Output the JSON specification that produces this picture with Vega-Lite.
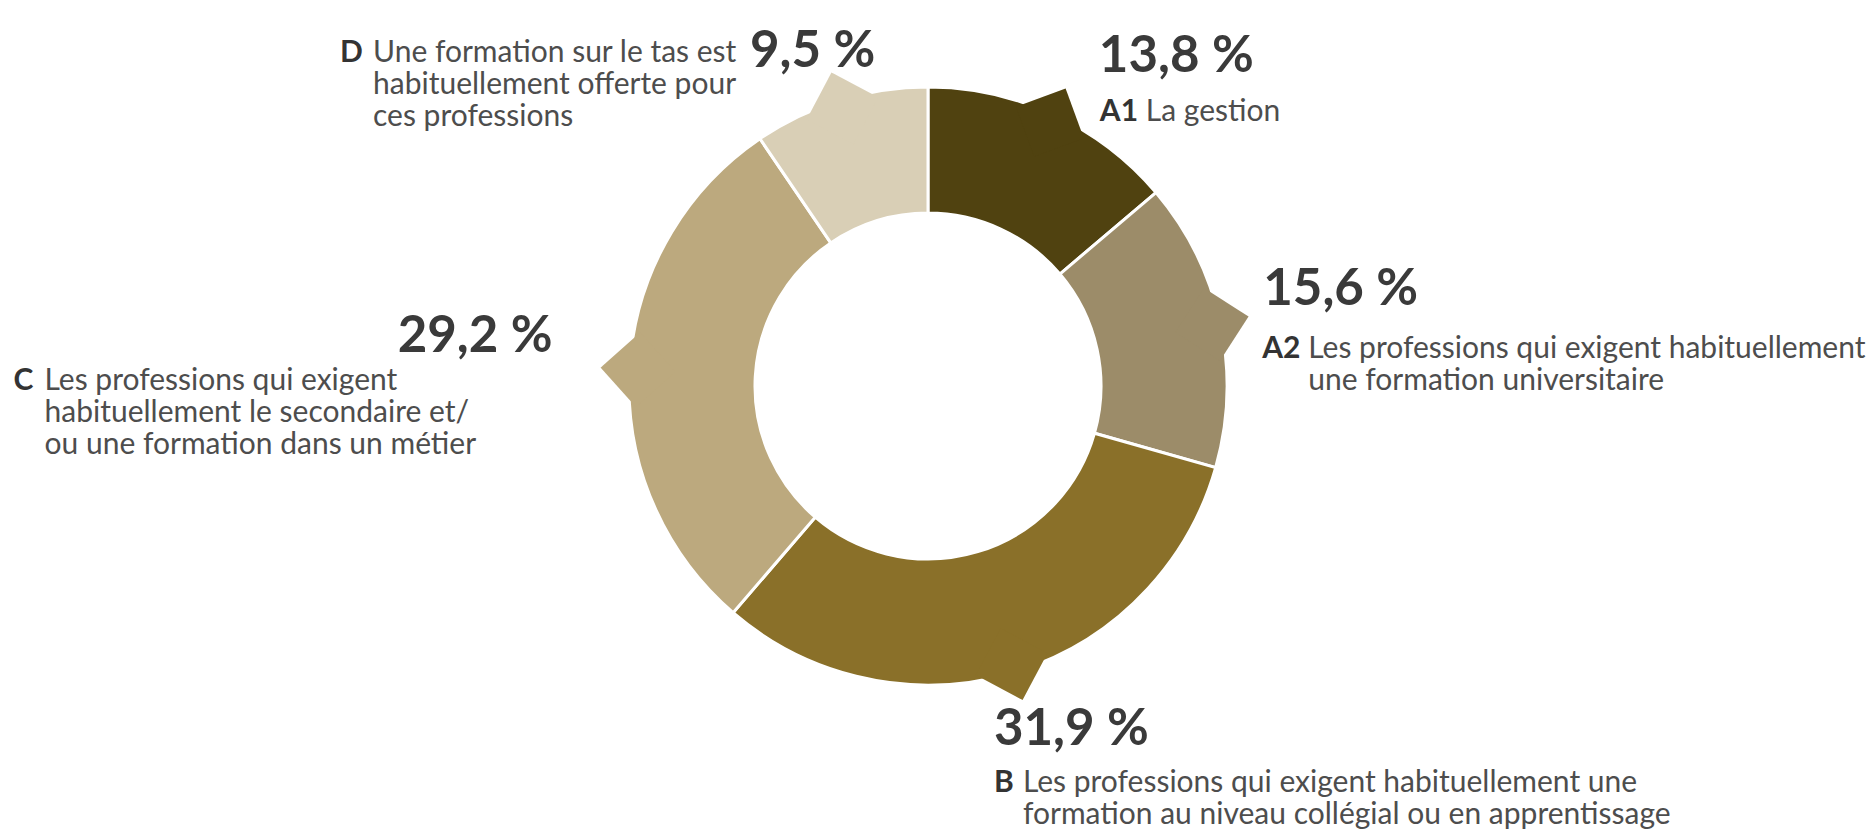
{
  "$schema": "https://vega.github.io/schema/vega-lite/v6.json",
  "width": 1856,
  "height": 772,
  "autosize": {"type": "none"},
  "padding": {"left": 0, "top": 0, "right": 17, "bottom": 62},
  "background": "#ffffff",
  "config": {"view": {"stroke": null}, "text": {"font": "Lato"}},
  "data": {
    "values": [
      {"cat": "A1", "value": 13.8, "pct": "13,8 %", "letter": "A1", "desc": ["La gestion"]},
      {"cat": "A2", "value": 15.6, "pct": "15,6 %", "letter": "A2", "desc": ["Les professions qui exigent habituellement", "une formation universitaire"]},
      {"cat": "B", "value": 31.9, "pct": "31,9 %", "letter": "B", "desc": ["Les professions qui exigent habituellement une", "formation au niveau collégial ou en apprentissage"]},
      {"cat": "C", "value": 29.2, "pct": "29,2 %", "letter": "C", "desc": ["Les professions qui exigent", "habituellement le secondaire et/", "ou une formation dans un métier"]},
      {"cat": "D", "value": 9.5, "pct": "9,5 %", "letter": "D", "desc": ["Une formation sur le tas est", "habituellement offerte pour", "ces professions"]}
    ]
  },
  "layer": [
    {
      "mark": {"type": "arc", "outerRadius": 299, "innerRadius": 173, "stroke": "#ffffff", "strokeWidth": 3},
      "encoding": {
        "theta": {"field": "value", "type": "quantitative", "stack": true},
        "order": {"field": "cat", "type": "ordinal", "sort": "ascending"},
        "color": {"field": "cat", "type": "nominal", "legend": null,
          "scale": {"domain": ["A1", "A2", "B", "C", "D"], "range": ["#504210", "#9c8c69", "#8a7029", "#bca97e", "#d9cfb6"]}}
      }
    },
    {
      "mark": {"type": "text", "text": "◆", "radius": 294, "fontSize": 98, "font": "DejaVu Sans", "align": "center", "baseline": "middle"},
      "encoding": {
        "theta": {"field": "value", "type": "quantitative", "stack": true},
        "order": {"field": "cat", "type": "ordinal", "sort": "ascending"},
        "color": {"field": "cat", "type": "nominal", "legend": null},
        "angle": {"field": "cat", "type": "nominal", "legend": null,
          "scale": {"type": "ordinal", "domain": ["A1", "A2", "B", "C", "D"], "range": [24.84, 77.76, 163.08, 273.24, 342.9]}}
      }
    },
    {
      "mark": {"type": "text", "radius": 340, "align": "left", "baseline": "alphabetic", "dx": 28, "dy": -5, "fontSize": 51, "fontWeight": "bold", "color": "#3a3a3a"},
      "encoding": {"theta": {"field": "value", "type": "quantitative", "stack": true}, "order": {"field": "cat", "type": "ordinal", "sort": "ascending"},
        "text": {"condition": {"test": "datum.cat === 'A1'", "field": "pct"}, "value": ""}}
    },
    {
      "mark": {"type": "text", "radius": 340, "align": "left", "baseline": "alphabetic", "dx": 29, "dy": 44, "fontSize": 30, "fontWeight": "bold", "color": "#333333"},
      "encoding": {"theta": {"field": "value", "type": "quantitative", "stack": true}, "order": {"field": "cat", "type": "ordinal", "sort": "ascending"},
        "text": {"condition": {"test": "datum.cat === 'A1'", "field": "letter"}, "value": ""}}
    },
    {
      "mark": {"type": "text", "radius": 340, "align": "left", "baseline": "alphabetic", "dx": 75, "dy": 44, "fontSize": 30, "lineHeight": 32, "color": "#4d4d4d"},
      "encoding": {"theta": {"field": "value", "type": "quantitative", "stack": true}, "order": {"field": "cat", "type": "ordinal", "sort": "ascending"},
        "text": {"condition": {"test": "datum.cat === 'A1'", "field": "desc"}, "value": ""}}
    },
    {
      "mark": {"type": "text", "radius": 340, "align": "left", "baseline": "alphabetic", "dx": 3, "dy": -9, "fontSize": 51, "fontWeight": "bold", "color": "#3a3a3a"},
      "encoding": {"theta": {"field": "value", "type": "quantitative", "stack": true}, "order": {"field": "cat", "type": "ordinal", "sort": "ascending"},
        "text": {"condition": {"test": "datum.cat === 'A2'", "field": "pct"}, "value": ""}}
    },
    {
      "mark": {"type": "text", "radius": 340, "align": "left", "baseline": "alphabetic", "dx": 2, "dy": 44, "fontSize": 30, "fontWeight": "bold", "color": "#333333"},
      "encoding": {"theta": {"field": "value", "type": "quantitative", "stack": true}, "order": {"field": "cat", "type": "ordinal", "sort": "ascending"},
        "text": {"condition": {"test": "datum.cat === 'A2'", "field": "letter"}, "value": ""}}
    },
    {
      "mark": {"type": "text", "radius": 340, "align": "left", "baseline": "alphabetic", "dx": 48, "dy": 44, "fontSize": 30, "lineHeight": 32, "color": "#4d4d4d"},
      "encoding": {"theta": {"field": "value", "type": "quantitative", "stack": true}, "order": {"field": "cat", "type": "ordinal", "sort": "ascending"},
        "text": {"condition": {"test": "datum.cat === 'A2'", "field": "desc"}, "value": ""}}
    },
    {
      "mark": {"type": "text", "radius": 340, "align": "left", "baseline": "alphabetic", "dx": -32, "dy": 33, "fontSize": 51, "fontWeight": "bold", "color": "#3a3a3a"},
      "encoding": {"theta": {"field": "value", "type": "quantitative", "stack": true}, "order": {"field": "cat", "type": "ordinal", "sort": "ascending"},
        "text": {"condition": {"test": "datum.cat === 'B'", "field": "pct"}, "value": ""}}
    },
    {
      "mark": {"type": "text", "radius": 340, "align": "left", "baseline": "alphabetic", "dx": -32, "dy": 80, "fontSize": 30, "fontWeight": "bold", "color": "#333333"},
      "encoding": {"theta": {"field": "value", "type": "quantitative", "stack": true}, "order": {"field": "cat", "type": "ordinal", "sort": "ascending"},
        "text": {"condition": {"test": "datum.cat === 'B'", "field": "letter"}, "value": ""}}
    },
    {
      "mark": {"type": "text", "radius": 340, "align": "left", "baseline": "alphabetic", "dx": -3, "dy": 80, "fontSize": 30, "lineHeight": 32, "color": "#4d4d4d"},
      "encoding": {"theta": {"field": "value", "type": "quantitative", "stack": true}, "order": {"field": "cat", "type": "ordinal", "sort": "ascending"},
        "text": {"condition": {"test": "datum.cat === 'B'", "field": "desc"}, "value": ""}}
    },
    {
      "mark": {"type": "text", "radius": 340, "align": "right", "baseline": "alphabetic", "dx": -36, "dy": -15, "fontSize": 51, "fontWeight": "bold", "color": "#3a3a3a"},
      "encoding": {"theta": {"field": "value", "type": "quantitative", "stack": true}, "order": {"field": "cat", "type": "ordinal", "sort": "ascending"},
        "text": {"condition": {"test": "datum.cat === 'C'", "field": "pct"}, "value": ""}}
    },
    {
      "mark": {"type": "text", "radius": 340, "align": "left", "baseline": "alphabetic", "dx": -575, "dy": 23, "fontSize": 30, "fontWeight": "bold", "color": "#333333"},
      "encoding": {"theta": {"field": "value", "type": "quantitative", "stack": true}, "order": {"field": "cat", "type": "ordinal", "sort": "ascending"},
        "text": {"condition": {"test": "datum.cat === 'C'", "field": "letter"}, "value": ""}}
    },
    {
      "mark": {"type": "text", "radius": 340, "align": "left", "baseline": "alphabetic", "dx": -544, "dy": 23, "fontSize": 30, "lineHeight": 32, "color": "#4d4d4d"},
      "encoding": {"theta": {"field": "value", "type": "quantitative", "stack": true}, "order": {"field": "cat", "type": "ordinal", "sort": "ascending"},
        "text": {"condition": {"test": "datum.cat === 'C'", "field": "desc"}, "value": ""}}
    },
    {
      "mark": {"type": "text", "radius": 340, "align": "left", "baseline": "alphabetic", "dx": -78, "dy": 6, "fontSize": 51, "fontWeight": "bold", "color": "#3a3a3a"},
      "encoding": {"theta": {"field": "value", "type": "quantitative", "stack": true}, "order": {"field": "cat", "type": "ordinal", "sort": "ascending"},
        "text": {"condition": {"test": "datum.cat === 'D'", "field": "pct"}, "value": ""}}
    },
    {
      "mark": {"type": "text", "radius": 340, "align": "left", "baseline": "alphabetic", "dx": -488, "dy": 1, "fontSize": 30, "fontWeight": "bold", "color": "#333333"},
      "encoding": {"theta": {"field": "value", "type": "quantitative", "stack": true}, "order": {"field": "cat", "type": "ordinal", "sort": "ascending"},
        "text": {"condition": {"test": "datum.cat === 'D'", "field": "letter"}, "value": ""}}
    },
    {
      "mark": {"type": "text", "radius": 340, "align": "left", "baseline": "alphabetic", "dx": -455, "dy": 1, "fontSize": 30, "lineHeight": 32, "color": "#4d4d4d"},
      "encoding": {"theta": {"field": "value", "type": "quantitative", "stack": true}, "order": {"field": "cat", "type": "ordinal", "sort": "ascending"},
        "text": {"condition": {"test": "datum.cat === 'D'", "field": "desc"}, "value": ""}}
    }
  ]
}
